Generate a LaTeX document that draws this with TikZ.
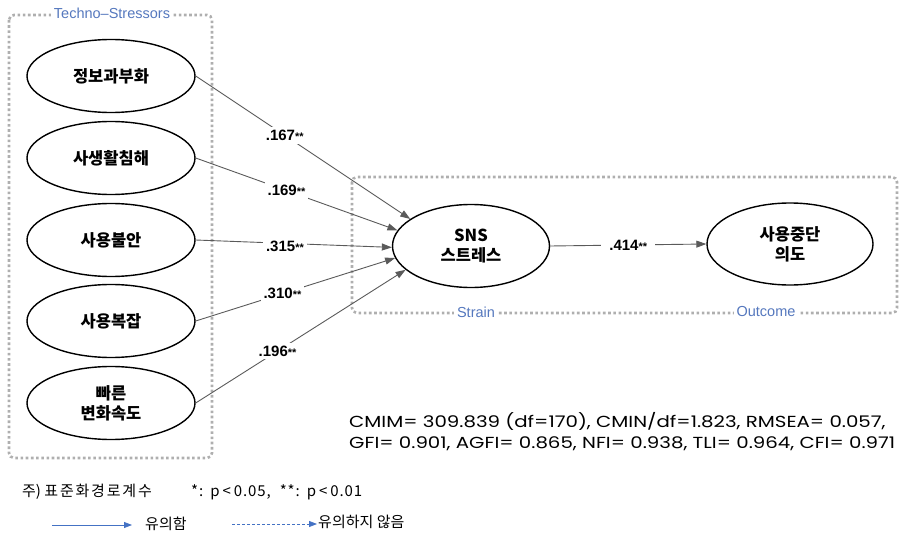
\documentclass[tikz,border=0pt]{standalone}
\usepackage{fontspec}
\setmainfont{Liberation Sans}
\newfontfamily\kr{Noto Sans CJK KR}
\newfontfamily\fitfont{Poppins}
\usetikzlibrary{shapes.geometric,arrows.meta}
\definecolor{boxgray}{RGB}{175,175,175}
\definecolor{pathgray}{RGB}{90,90,90}
\definecolor{tagblue}{RGB}{85,120,190}
\definecolor{legblue}{RGB}{68,114,196}
\tikzset{
  factor/.style={ellipse, draw, line width=1.4pt, minimum width=168pt, minimum height=73pt,
    inner sep=0pt, align=center, font=\kr\bfseries\fontsize{16.5}{20}\selectfont},
  groupbox/.style={draw=boxgray, line width=2.6pt, dash pattern=on 2.6pt off 2.6pt, rounded corners=5pt},
  grouptag/.style={fill=white, text=tagblue, inner sep=3pt, font=\fontsize{14.5}{14.5}\selectfont},
  effect/.style={draw=pathgray, line width=0.9pt, -{Triangle[length=10pt,width=7pt]}},
  coef/.style={fill=white, inner sep=3pt, font=\bfseries\fontsize{15}{15}\selectfont},
  legarrow/.style={draw=legblue, line width=0.8pt, -{Triangle[length=8pt,width=6pt]}},
  legtext/.style={inner sep=0pt, anchor=west, font=\kr\fontsize{15}{15}\selectfont},
}
\newcommand{\sigmark}[1]{#1{\fontsize{11}{11}\selectfont**}}
\begin{document}
\begin{tikzpicture}[x=1pt,y=-1pt]
\useasboundingbox (0,0) rectangle (900,535);

% group frames
\draw[groupbox] (9,15) rectangle (212,458);
\draw[groupbox] (352,177) rectangle (897,313);
\node[grouptag] (tagstress) at (112,13) {Techno–Stressors};
\node[grouptag] (tagstrain) at (476,312) {Strain};
\node[grouptag] (tagout) at (766,312) {Outcome};

% latent variables
\node[factor] (e1) at (111,76) {정보과부화};
\node[factor] (e2) at (111,158) {사생활침해};
\node[factor] (e3) at (111,240) {사용불안};
\node[factor] (e4) at (111,321) {사용복잡};
\node[factor] (e5) at (111,403) {빠른\\변화속도};
\node[factor, minimum width=157pt, minimum height=83pt] (sns) at (471,246) {SNS\\스트레스};
\node[factor, minimum width=166pt, minimum height=82pt] (out) at (790,244) {사용중단\\의도};

% structural paths
\draw[effect] (e1.east) -- node[coef, pos=0.415] {\sigmark{.167}} (sns.156);
\draw[effect] (e2.east) -- node[coef, pos=0.45] {\sigmark{.169}} (sns.168);
\draw[effect] (e3.east) -- node[coef, pos=0.455, yshift=-3pt] {\sigmark{.315}} (sns.181);
\draw[effect] (e4.east) -- node[coef, pos=0.435] {\sigmark{.310}} (sns.189);
\draw[effect] (e5.east) -- node[coef, pos=0.39] {\sigmark{.196}} (sns.200);
\draw[effect] (sns.east) -- node[coef, inner sep=8pt] {\sigmark{.414}} (out.west);

% fit indices
\node[anchor=west, align=left, inner sep=0pt, font=\fitfont\fontsize{16}{21}\selectfont] (fit) at (349,432)
  {\scalebox{1.235}[1]{CMIM= 309.839 (df=170), CMIN/df=1.823, RMSEA= 0.057,}\\
   \scalebox{1.235}[1]{GFI= 0.901, AGFI= 0.865, NFI= 0.938, TLI= 0.964, CFI= 0.971}};

% legend
\node[legtext] (note) at (22,492) {주)\ \addfontfeature{LetterSpace=12}표준화경로계수};
\node[legtext] (stars) at (191,492) {\addfontfeature{LetterSpace=6}*:\hspace{7pt}p\hspace{3pt}<\hspace{3pt}0.05,\hspace{9pt}**:\hspace{7pt}p\hspace{3pt}<\hspace{3pt}0.01};
\coordinate (sigstart) at (52,525);
\node[legtext] (sigtext) at (145,524) {유의함};
\draw[legarrow] (sigstart) -- ([xshift=-13pt]sigtext.west |- sigstart);
\coordinate (nsstart) at (232,524);
\node[legtext] (nstext) at (318,522) {유의하지 않음};
\draw[legarrow, dash pattern=on 3pt off 2pt] (nsstart) -- ([xshift=-1pt]nstext.west |- nsstart);
\end{tikzpicture}
\end{document}
